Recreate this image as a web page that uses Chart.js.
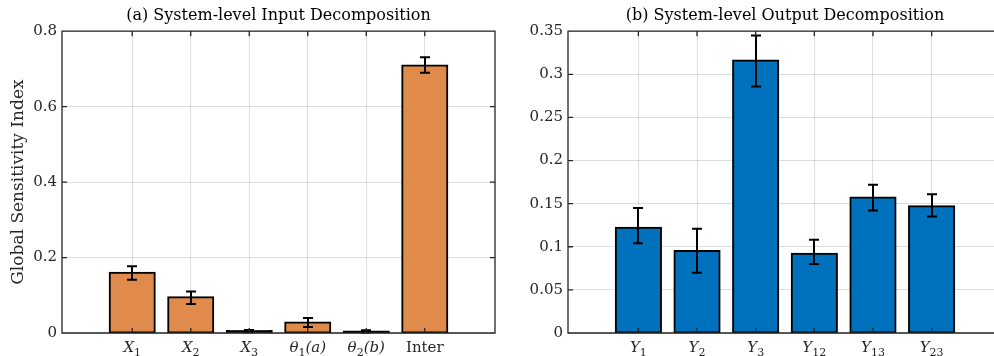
<!DOCTYPE html>
<html>
<head>
<meta charset="utf-8">
<script src="https://cdn.jsdelivr.net/npm/chart.js@4.4.1/dist/chart.umd.min.js"></script>
<style>
    body { margin: 0; background: #fff; overflow: hidden; width: 994px; height: 356px; position: relative; }
    canvas { position: absolute; top: 0; }
</style>
</head>
<body>
<canvas id="graficaEntrada" width="500" height="356" style="left:0"></canvas>
<canvas id="graficaSalida" width="510" height="356" style="left:500px"></canvas>
<script>
// datos (a) entrada  ("_" marca el subíndice)
const entradas = ["X_1", "X_2", "X_3", "θ_1(a)", "θ_2(b)", "Inter"];
const entradaValores = [0.160, 0.095, 0.005, 0.028, 0.004, 0.709];
const entradaInf = [0.141, 0.077, 0.002, 0.016, 0.001, 0.690];
const entradaSup = [0.177, 0.110, 0.008, 0.040, 0.007, 0.731];
const ticksEntrada = [0, 0.2, 0.4, 0.6, 0.8];

// datos (b) salida
const salidas = ["Y_1", "Y_2", "Y_3", "Y_12", "Y_13", "Y_23"];
const salidaValores = [0.122, 0.095, 0.316, 0.092, 0.157, 0.147];
const salidaInf = [0.104, 0.070, 0.286, 0.080, 0.142, 0.135];
const salidaSup = [0.145, 0.121, 0.345, 0.108, 0.172, 0.161];
const ticksSalida = [0, 0.05, 0.1, 0.15, 0.2, 0.25, 0.3, 0.35];

const fuente = "'DejaVu Serif', 'Liberation Serif', serif";
const gris = "#262626";

// barras de error, caja del eje, marcas hacia dentro y etiquetas con subíndice
const cajaPlugin = {
    id: "caja",
    afterDatasetsDraw(chart, args, opts) {
        const { ctx, chartArea: a, scales: { x, y } } = chart;
        ctx.save();
        ctx.strokeStyle = "#000";
        ctx.lineWidth = 2;
        opts.inf.forEach((v, i) => {
            const px = Math.round(x.getPixelForValue(i + 1));
            const p1 = y.getPixelForValue(v);
            const p2 = y.getPixelForValue(opts.sup[i]);
            ctx.beginPath();
            ctx.moveTo(px, p1); ctx.lineTo(px, p2);
            ctx.moveTo(px - 5, p1); ctx.lineTo(px + 5, p1);
            ctx.moveTo(px - 5, p2); ctx.lineTo(px + 5, p2);
            ctx.stroke();
        });
        ctx.strokeStyle = gris;
        ctx.lineWidth = 1.3;
        ctx.beginPath();
        ctx.moveTo(a.left, a.top); ctx.lineTo(a.right, a.top);
        ctx.lineTo(a.right, a.bottom); ctx.lineTo(a.left, a.bottom);
        ctx.closePath();
        x.ticks.forEach(t => {
            const px = x.getPixelForValue(t.value);
            ctx.moveTo(px, a.bottom); ctx.lineTo(px, a.bottom - 5);
            ctx.moveTo(px, a.top); ctx.lineTo(px, a.top + 5);
        });
        y.ticks.forEach(t => {
            const py = y.getPixelForValue(t.value);
            ctx.moveTo(a.left, py); ctx.lineTo(a.left + 5, py);
            ctx.moveTo(a.right, py); ctx.lineTo(a.right - 5, py);
        });
        ctx.stroke();

        // etiquetas del eje x
        const base = a.bottom + 19;
        ctx.fillStyle = gris;
        ctx.textBaseline = "alphabetic";
        ctx.textAlign = "left";
        opts.etiquetas.forEach((et, i) => {
            const px = x.getPixelForValue(i + 1);
            let partes;
            if (et.indexOf("_") < 0) {
                partes = [[et, "normal 15px " + fuente, 0]];
            } else {
                const [cab, resto] = et.split("_");
                const m = resto.match(/^(\d+)(.*)$/);
                partes = [[cab, "italic 15px " + fuente, 0], [m[1], "normal 11px " + fuente, 3.5]];
                if (m[2]) partes.push([m[2], "italic 15px " + fuente, 0]);
            }
            let ancho = 0;
            partes.forEach(p => { ctx.font = p[1]; ancho += ctx.measureText(p[0]).width; });
            let cx = px - ancho / 2;
            partes.forEach(p => {
                ctx.font = p[1];
                ctx.fillText(p[0], cx, base + p[2]);
                cx += ctx.measureText(p[0]).width;
            });
        });
        ctx.restore();
    }
};

function crearGrafica(id, titulo, etiquetas, valores, inf, sup, ticksY, maxY, color, anchoY, tituloY, padDer) {
    const ctx = document.getElementById(id).getContext("2d");
    return new Chart(ctx, {
        type: "bar",
        data: {
            datasets: [{
                data: valores.map((v, i) => ({ x: i + 1, y: v })),
                // barras casi nulas: el borde negro las cubre, como en el original
                backgroundColor: c => {
                    const ys = c.chart.scales.y;
                    if (ys && c.raw && ys.getPixelForValue(0) - ys.getPixelForValue(c.raw.y) < 4) return "#000";
                    return color;
                },
                borderColor: "#000",
                borderWidth: 2,
                borderSkipped: false,
                inflateAmount: 1,
                barPercentage: 0.77,
                categoryPercentage: 1.0
            }]
        },
        options: {
            responsive: false,
            animation: false,
            layout: { padding: { left: 0, right: padDer, top: 0, bottom: 0 } },
            plugins: {
                legend: { display: false },
                tooltip: { enabled: false },
                title: {
                    display: true,
                    text: titulo,
                    fullSize: false,
                    color: "#000",
                    font: { family: fuente, size: 16, weight: "normal" },
                    padding: { top: 6, bottom: 6 }
                },
                caja: { inf: inf, sup: sup, etiquetas: etiquetas }
            },
            scales: {
                x: {
                    type: "linear",
                    min: -0.2,
                    max: 7.2,
                    offset: false,
                    grid: { offset: false, color: "rgba(0,0,0,0.13)", drawTicks: false },
                    border: { display: false },
                    afterBuildTicks: s => { s.ticks = etiquetas.map((e, i) => ({ value: i + 1 })); },
                    afterFit: s => { s.height = 23; },
                    ticks: { display: false }
                },
                y: {
                    min: 0,
                    max: maxY,
                    grid: { color: "rgba(0,0,0,0.13)", drawTicks: false },
                    border: { display: false },
                    afterBuildTicks: s => { s.ticks = ticksY.map(v => ({ value: v })); },
                    afterFit: s => { s.width = anchoY; },
                    ticks: {
                        padding: 5,
                        color: gris,
                        font: { family: fuente, size: 15 },
                        callback: v => String(v)
                    },
                    title: {
                        display: tituloY !== "",
                        text: tituloY,
                        color: gris,
                        font: { family: fuente, size: 17 },
                        padding: { top: 8, bottom: 0 }
                    }
                }
            }
        },
        plugins: [cajaPlugin]
    });
}

crearGrafica("graficaEntrada", "(a) System-level Input Decomposition", entradas,
    entradaValores, entradaInf, entradaSup, ticksEntrada, 0.8, "#E08B4B", 62, "Global Sensitivity Index", 5);
crearGrafica("graficaSalida", "(b) System-level Output Decomposition", salidas,
    salidaValores, salidaInf, salidaSup, ticksSalida, 0.35, "#0072BD", 68, "", 8);
</script>
</body>
</html>
